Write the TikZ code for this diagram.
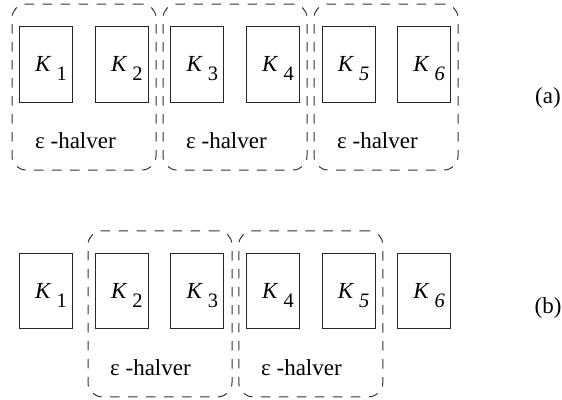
\documentclass[tikz,border=0pt]{standalone}
\usepackage{fontspec}
\setmainfont{Liberation Serif}
\newfontfamily\tnr{Liberation Serif}
\newcommand\Ksub[2]{\hspace*{10pt}\textit{K}\hspace{5pt}\raisebox{-8.3pt}[0pt][0pt]{\fontsize{20.5}{20}\selectfont #1{#2}}}
\begin{document}
\begin{tikzpicture}[x=1pt,y=-1pt,
  kbox/.style={draw=black!85, line width=1pt, minimum width=53pt, minimum height=75.5pt, inner sep=0pt, font=\tnr\fontsize{23}{26}\selectfont},
  grp/.style={draw=black!80, dash pattern=on 9.5pt off 8.5pt, line width=1pt, rounded corners=14pt, minimum width=144pt, minimum height=166pt, inner sep=0pt},
  lbl/.style={font=\tnr\fontsize{23}{26}\selectfont, anchor=base west, inner sep=0pt},
  tag/.style={font=\tnr\fontsize{23}{26}\selectfont, inner sep=0pt}]
\useasboundingbox (0,0) rectangle (562,399);
% (a)
\node[kbox] (a1) at (46,64.4) {\Ksub{\upshape}{1}};
\node[kbox] (a2) at (121.8,64.4) {\Ksub{\upshape}{2}};
\node[kbox] (a3) at (197.4,64.4) {\Ksub{\upshape}{3}};
\node[kbox] (a4) at (273,64.4) {\Ksub{\upshape}{4}};
\node[kbox] (a5) at (348.6,64.4) {\Ksub{\itshape}{5}};
\node[kbox] (a6) at (424.2,64.4) {\Ksub{\itshape}{6}};
\node[grp] (ga1) at (84,87) {};
\node[grp] (ga2) at (235,87) {};
\node[grp] (ga3) at (386,87) {};
\node[lbl] (la1) at (35,148.3) {ε -halver};
\node[lbl] (la2) at (186,148.3) {ε -halver};
\node[lbl] (la3) at (337,148.3) {ε -halver};
\node[tag] (ta) at (548,97.5) {(a)};
% (b)
\node[kbox] (b1) at (46,291.2) {\Ksub{\upshape}{1}};
\node[kbox] (b2) at (121.8,291.2) {\Ksub{\upshape}{2}};
\node[kbox] (b3) at (197.4,291.2) {\Ksub{\upshape}{3}};
\node[kbox] (b4) at (273,291.2) {\Ksub{\upshape}{4}};
\node[kbox] (b5) at (348.6,291.2) {\Ksub{\itshape}{5}};
\node[kbox] (b6) at (424.2,291.2) {\Ksub{\itshape}{6}};
\node[grp] (gb1) at (160,313.8) {};
\node[grp] (gb2) at (310.8,313.8) {};
\node[lbl] (lb1) at (110,375) {ε -halver};
\node[lbl] (lb2) at (261,375) {ε -halver};
\node[tag] (tb) at (548,308) {(b)};
\end{tikzpicture}
\end{document}
